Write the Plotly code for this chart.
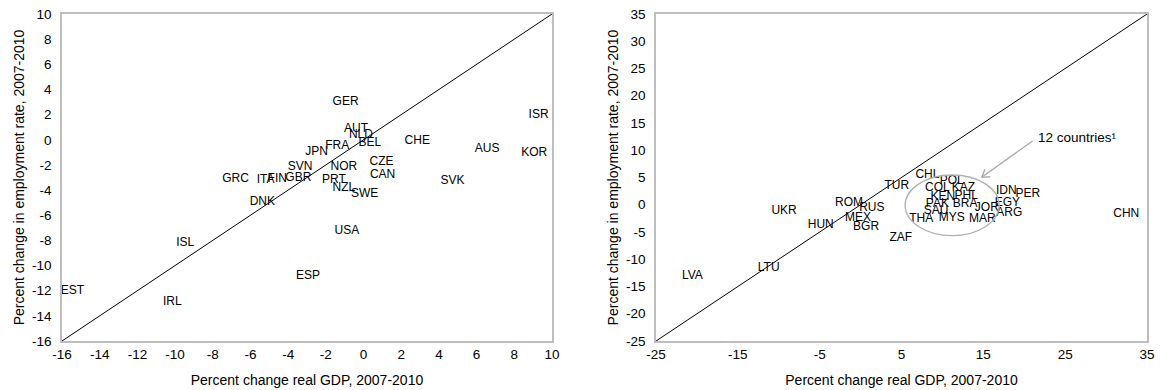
import math
import plotly.graph_objects as go
from plotly.subplots import make_subplots

# ---- Left panel (OECD) ----
oecd_codes = ["GER", "AUT", "NLD", "BEL", "FRA", "JPN", "CHE", "CZE", "CAN", "SVN", "NOR",
              "GRC", "ITA", "FIN", "GBR", "PRT", "NZL", "SWE", "DNK", "USA", "SVK", "AUS",
              "KOR", "ISR", "ISL", "EST", "IRL", "ESP"]
oecd_gdp = [-0.95, -0.4, -0.14, 0.34, -1.4, -2.49, 2.85, 0.96, 1.01, -3.37, -1.04,
            -6.79, -5.2, -4.58, -3.46, -1.57, -1.04, 0.06, -5.37, -0.88, 4.72, 6.56,
            9.06, 9.29, -9.46, -15.45, -10.15, -2.95]
oecd_emp = [3.0, 0.83, 0.38, -0.28, -0.47, -1.0, -0.1, -1.74, -2.77, -2.19, -2.14,
            -3.09, -3.2, -3.12, -3.01, -3.2, -3.86, -4.31, -4.94, -7.22, -3.27, -0.73,
            -1.08, 1.97, -8.23, -12.0, -12.87, -10.83]

# ---- Right panel (non-OECD / emerging) ----
em_codes = ["UKR", "HUN", "LTU", "LVA", "ROM", "RUS", "MEX", "BGR", "ZAF", "TUR", "CHL",
            "POL", "COL", "KAZ", "KEN", "PHL", "PAK", "BRA", "SAU", "THA", "MYS", "MAR",
            "JOR", "IDN", "EGY", "PER", "ARG", "CHN"]
em_gdp = [-9.35, -4.87, -11.23, -20.56, -1.41, 1.37, -0.31, 0.67, 4.91, 4.42, 8.17,
          11.14, 9.39, 12.57, 10.05, 12.9, 9.39, 12.78, 9.23, 7.4, 11.14, 14.89,
          15.43, 17.8, 17.93, 20.44, 18.18, 32.46]
em_emp = [-1.09, -3.78, -11.67, -13.13, 0.32, -0.65, -2.38, -4.02, -6.16, 3.5, 5.4,
          4.36, 3.07, 3.07, 1.42, 1.54, 0.14, 0.2, -1.09, -2.56, -2.43, -2.67,
          -0.6, 2.58, 0.38, 2.03, -1.46, -1.7]

left_range = [-16, 10]
right_range = [-25, 35]
left_ticks = list(range(-16, 11, 2))
right_xticks = list(range(-25, 36, 10))
right_yticks = list(range(-25, 36, 5))
left_ticktext = [str(v) for v in left_ticks]
right_xticktext = [str(v) for v in right_xticks]
right_yticktext = [str(v) for v in right_yticks]

cluster_ellipse = [5.44, -5.68, 16.93, 5.46]   # x0, y0, x1, y1
arrow_tail = [21.2, 11.9]
arrow_head = [14.8, 5.04]
note_text = "12 countries\u00b9"
note_pos = [21.4, 12.25]

x_title = "Percent change real GDP, 2007-2010"
y_title = "Percent change in employment rate, 2007-2010"

FONT = "Liberation Sans, Arial, sans-serif"
GRAY = "#BEBEBE"

W, H = 1162, 390
ML, MR, MT, MB = 62, 15, 14, 49
RIGHT_DOMAIN = [0.5475, 1.0]

fig = make_subplots(rows=1, cols=2)

fig.add_trace(go.Scatter(x=left_range, y=left_range, mode="lines",
                         line=dict(color="black", width=1), hoverinfo="skip"), row=1, col=1)
fig.add_trace(go.Scatter(x=oecd_gdp, y=oecd_emp, mode="text", text=oecd_codes,
                         textposition="middle center",
                         textfont=dict(size=12, color="black", family=FONT)), row=1, col=1)

fig.add_trace(go.Scatter(x=right_range, y=right_range, mode="lines",
                         line=dict(color="black", width=1), hoverinfo="skip"), row=1, col=2)
fig.add_trace(go.Scatter(x=em_gdp, y=em_emp, mode="text", text=em_codes,
                         textposition="middle center",
                         textfont=dict(size=12, color="black", family=FONT)), row=1, col=2)

fig.add_shape(type="circle", xref="x2", yref="y2",
              x0=cluster_ellipse[0], y0=cluster_ellipse[1],
              x1=cluster_ellipse[2], y1=cluster_ellipse[3],
              line=dict(color="#B0B0B0", width=1.3))

# arrow shaft
ARROW_COLOR = "#A8A8A8"
fig.add_annotation(x=arrow_head[0], y=arrow_head[1], ax=arrow_tail[0], ay=arrow_tail[1],
                   xref="x2", yref="y2", axref="x2", ayref="y2", text="",
                   showarrow=True, arrowhead=0, arrowwidth=1.3, arrowcolor=ARROW_COLOR)
# open V arrowhead, direction derived from the axis scales
plot_w = (W - ML - MR) * (RIGHT_DOMAIN[1] - RIGHT_DOMAIN[0])
plot_h = H - MT - MB
px_x = plot_w / (right_range[1] - right_range[0])
px_y = plot_h / (right_range[1] - right_range[0])
dxp = (arrow_tail[0] - arrow_head[0]) * px_x
dyp = -(arrow_tail[1] - arrow_head[1]) * px_y
ang = math.atan2(dyp, dxp)
for da in (math.radians(32), -math.radians(32)):
    fig.add_annotation(x=arrow_head[0], y=arrow_head[1], xref="x2", yref="y2",
                       ax=10 * math.cos(ang + da), ay=10 * math.sin(ang + da),
                       text="", showarrow=True, arrowhead=0, arrowwidth=1.3,
                       arrowcolor=ARROW_COLOR)

fig.add_annotation(x=note_pos[0], y=note_pos[1], xref="x2", yref="y2", text=note_text,
                   showarrow=False, xanchor="left", yanchor="middle",
                   font=dict(size=13.5, color="black", family=FONT))

axis_common = dict(showgrid=False, zeroline=False, showline=True, linecolor=GRAY,
                   linewidth=1.5, mirror=True, ticks="",
                   tickfont=dict(size=13.5, color="black", family=FONT),
                   title_font=dict(size=14, color="black", family=FONT))

fig.update_xaxes(axis_common)
fig.update_yaxes(axis_common)

fig.update_xaxes(range=left_range, tickvals=left_ticks, ticktext=left_ticktext,
                 domain=[0, 0.4516], title_text=x_title, title_standoff=14, row=1, col=1)
fig.update_yaxes(range=left_range, tickvals=left_ticks, ticktext=left_ticktext,
                 ticklabelstandoff=6, title_text=y_title, title_standoff=4, row=1, col=1)
fig.update_xaxes(range=right_range, tickvals=right_xticks, ticktext=right_xticktext,
                 domain=RIGHT_DOMAIN, title_text=x_title, title_standoff=14, row=1, col=2)
fig.update_yaxes(range=right_range, tickvals=right_yticks, ticktext=right_yticktext,
                 ticklabelstandoff=6, title_text=y_title, title_standoff=4, row=1, col=2)

fig.update_layout(width=W, height=H, showlegend=False,
                  plot_bgcolor="white", paper_bgcolor="white",
                  margin=dict(l=ML, r=MR, t=MT, b=MB, autoexpand=False),
                  font=dict(family=FONT))

fig.write_html("out.html", config={"displayModeBar": False},
               post_script="document.body.style.margin='0';document.body.style.overflow='hidden';")
